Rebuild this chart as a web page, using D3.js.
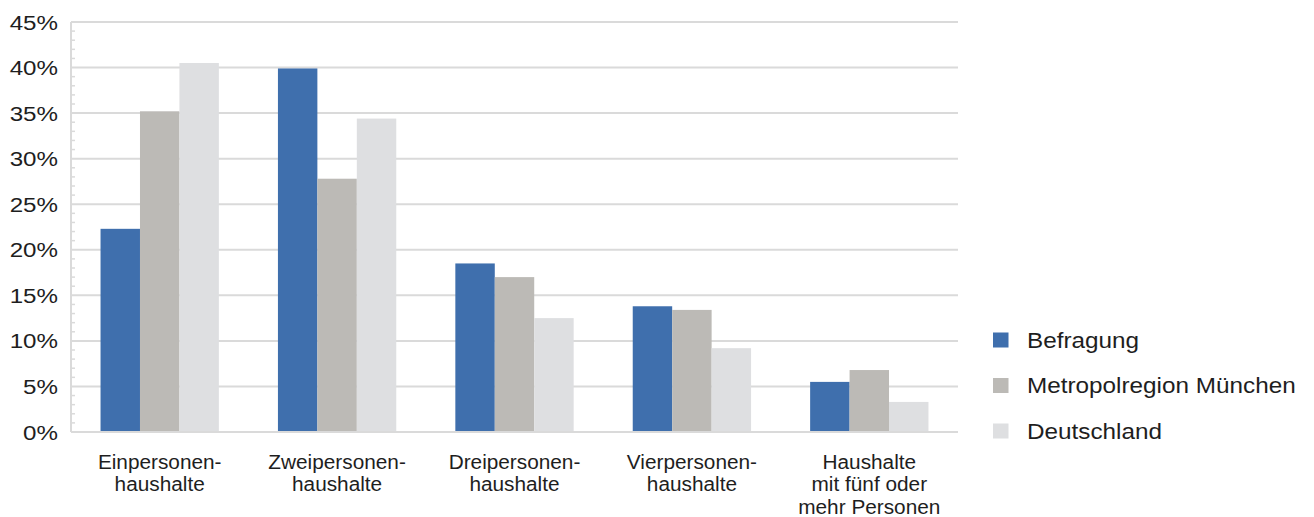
<!DOCTYPE html>
<html>
<head>
<meta charset="utf-8">
<script src="https://cdn.jsdelivr.net/npm/d3@7"></script>
<style>
  html, body { margin: 0; padding: 0; background: #fff; }
  svg { display: block; font-family: "Liberation Sans", Arial, Helvetica, sans-serif; }
</style>
</head>
<body>
<svg id="chart" width="1314" height="517"></svg>
<script>
// Haushaltsgrößen: Befragung vs. Metropolregion München vs. Deutschland (Anteile in %)
const categories = [
  ["Einpersonen-", "haushalte"],
  ["Zweipersonen-", "haushalte"],
  ["Dreipersonen-", "haushalte"],
  ["Vierpersonen-", "haushalte"],
  ["Haushalte", "mit fünf oder", "mehr Personen"]
];
const seriesNames = ["Befragung", "Metropolregion München", "Deutschland"];
const befragung   = [22.3, 39.9, 18.5, 13.8, 5.5];
const metropol    = [35.2, 27.8, 17.0, 13.4, 6.8];
const deutschland = [40.5, 34.4, 12.5, 9.2, 3.3];
const yTicks = [0, 5, 10, 15, 20, 25, 30, 35, 40, 45];
const colors = ["#3f6fad", "#bcbab6", "#dedfe1"];

const series = [befragung, metropol, deutschland];
const svg = d3.select("#chart");

const plotLeft = 71, plotRight = 958, plotTop = 22, plotBottom = 432;
const textColor = "#1e1e1e";

const x = d3.scaleBand().domain(d3.range(categories.length)).range([plotLeft, plotRight]).paddingInner(0).paddingOuter(0);
const groupWidth = x.bandwidth() * 0.667;
const xs = d3.scaleBand().domain(d3.range(series.length)).range([0, groupWidth]).padding(0);
const y = d3.scaleLinear().domain([0, 45]).range([plotBottom, plotTop]);

// horizontal gridlines
svg.append("g")
  .selectAll("line")
  .data(yTicks)
  .join("line")
  .attr("x1", plotLeft).attr("x2", plotRight)
  .attr("y1", d => y(d)).attr("y2", d => y(d))
  .attr("stroke", "#dadada").attr("stroke-width", 2);

// y axis line with minor ticks every 1%
const yAxis = svg.append("g");
yAxis.append("line")
  .attr("x1", plotLeft).attr("x2", plotLeft).attr("y1", plotTop).attr("y2", plotBottom)
  .attr("stroke", "#dadada").attr("stroke-width", 2);
yAxis.selectAll("line.minor")
  .data(d3.range(0, 46).filter(v => v % 5 !== 0))
  .join("line").attr("class", "minor")
  .attr("x1", plotLeft).attr("x2", plotLeft + 4)
  .attr("y1", d => y(d)).attr("y2", d => y(d))
  .attr("stroke", "#dadada").attr("stroke-width", 1.5);

// y tick labels (slightly wide-set type)
svg.append("g")
  .selectAll("text")
  .data(yTicks)
  .join("text")
  .attr("transform", d => `translate(58,${y(d)}) scale(1.15,1)`)
  .attr("dy", "0.36em")
  .attr("text-anchor", "end")
  .attr("font-size", 21)
  .attr("fill", textColor)
  .text(d => d + "%");

// bars
const groups = svg.append("g")
  .selectAll("g")
  .data(categories.map((c, i) => i))
  .join("g")
  .attr("transform", i => `translate(${x(i) + (x.bandwidth() - groupWidth) / 2},0)`);

groups.selectAll("rect")
  .data(i => series.map((s, k) => ({ k, v: s[i] })))
  .join("rect")
  .attr("x", d => xs(d.k))
  .attr("width", xs.bandwidth())
  .attr("y", d => y(d.v))
  .attr("height", d => plotBottom - y(d.v))
  .attr("fill", d => colors[d.k]);

// bottom axis line
svg.append("line")
  .attr("x1", plotLeft).attr("x2", plotRight).attr("y1", plotBottom).attr("y2", plotBottom)
  .attr("stroke", "#dadada").attr("stroke-width", 2);

// category labels
const labels = svg.append("g")
  .selectAll("text")
  .data(categories)
  .join("text")
  .attr("text-anchor", "middle")
  .attr("font-size", 20)
  .attr("fill", textColor)
  .attr("transform", (d, i) => `translate(${x(i) + x.bandwidth() / 2},468.5) scale(1.04,1)`);
labels.selectAll("tspan")
  .data(d => d)
  .join("tspan")
  .attr("x", 0)
  .attr("dy", (d, j) => j === 0 ? 0 : 22.8)
  .text(d => d);

// legend
const legend = svg.append("g")
  .selectAll("g")
  .data(seriesNames)
  .join("g")
  .attr("transform", (d, i) => `translate(993,${340 + i * 45.5})`);
legend.append("rect")
  .attr("x", 0).attr("y", -7.5).attr("width", 15.5).attr("height", 15)
  .attr("fill", (d, i) => colors[i]);
legend.append("text")
  .attr("transform", "translate(34,0) scale(1.13,1)")
  .attr("dy", "0.36em")
  .attr("font-size", 21.5).attr("fill", textColor)
  .text(d => d);
</script>
</body>
</html>
